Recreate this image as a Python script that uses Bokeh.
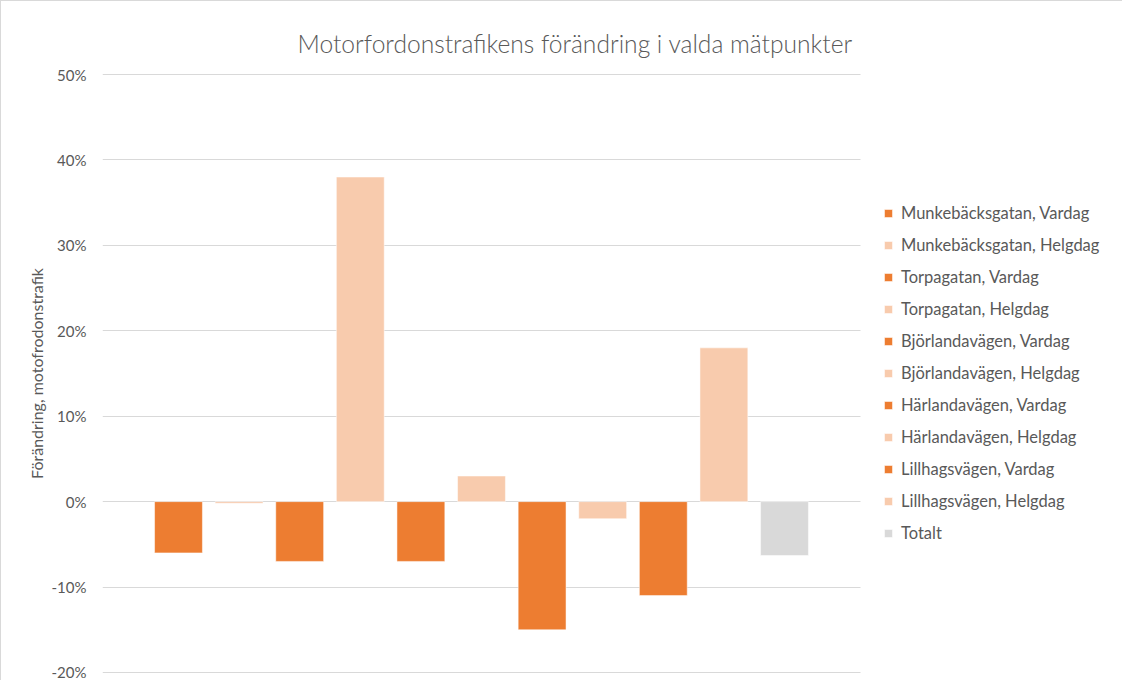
from bokeh.plotting import figure
from bokeh.models import Legend, LegendItem, NumeralTickFormatter, FixedTicker, Range1d
from bokeh.embed import file_html
from bokeh.resources import INLINE

title_text = "Motorfordonstrafikens förändring i valda mätpunkter"
y_label = "Förändring, motofrodonstrafik"
series = [
    "Munkebäcksgatan, Vardag", "Munkebäcksgatan, Helgdag",
    "Torpagatan, Vardag", "Torpagatan, Helgdag",
    "Björlandavägen, Vardag", "Björlandavägen, Helgdag",
    "Härlandavägen, Vardag", "Härlandavägen, Helgdag",
    "Lillhagsvägen, Vardag", "Lillhagsvägen, Helgdag",
    "Totalt",
]
values = [-0.06, -0.002, -0.07, 0.38, -0.07, 0.03, -0.15, -0.02, -0.11, 0.18, -0.063]
colors = ["#ED7D31", "#F8CBAD", "#ED7D31", "#F8CBAD", "#ED7D31", "#F8CBAD",
          "#ED7D31", "#F8CBAD", "#ED7D31", "#F8CBAD", "#D9D9D9"]
y_ticks = [-0.2, -0.1, 0.0, 0.1, 0.2, 0.3, 0.4, 0.5]

TXT = "#595959"
FONT = "Lato"

p = figure(width=1122, height=680, output_backend="svg", toolbar_location=None,
           x_range=Range1d(-1.254, 15.594), y_range=Range1d(-0.2047, 0.5047),
           min_border_left=101, min_border_right=0, min_border_top=69, min_border_bottom=5)
p.styles = {"border-left": "1px solid #D9D9D9", "border-top": "1px solid #D9D9D9"}
p.outline_line_color = None
p.xaxis.visible = False
p.xgrid.visible = False
p.ygrid.grid_line_color = "#D9D9D9"
p.ygrid.grid_line_width = 1
p.ygrid.cross_bounds = (-1.254, 11.254)
p.yaxis.ticker = FixedTicker(ticks=y_ticks)
p.yaxis.formatter = NumeralTickFormatter(format="0%")
p.yaxis.axis_line_color = None
p.yaxis.major_tick_line_color = None
p.yaxis.minor_tick_line_color = None
p.yaxis.major_tick_out = 0
p.yaxis.major_tick_in = 0
p.yaxis.major_label_standoff = 16
p.yaxis.major_label_text_font = FONT
p.yaxis.major_label_text_font_size = "15px"
p.yaxis.major_label_text_color = TXT
p.yaxis.axis_label = y_label
p.yaxis.axis_label_text_font = FONT
p.yaxis.axis_label_text_font_size = "16px"
p.yaxis.axis_label_text_font_style = "normal"
p.yaxis.axis_label_text_color = TXT
p.yaxis.axis_label_standoff = 3

p.title.text = title_text
p.title.align = "left"
p.title.offset = 195
p.title.standoff = 26
p.title.text_font = "Lato Light"
p.title.text_font_size = "24.6px"
p.title.text_font_style = "normal"
p.title.text_color = TXT

items = []
for i, (name, v, c) in enumerate(zip(series, values, colors)):
    r = p.vbar(x=[i], top=[v], bottom=[0], width=0.79, fill_color=c,
               line_color="white", line_alpha=0.5, line_width=1)
    items.append(LegendItem(label=name, renderers=[r]))

legend = Legend(items=items, location=(781, 133), padding=0, margin=0, spacing=12,
                glyph_width=10, glyph_height=10, label_height=20, label_standoff=8,
                label_text_font=FONT, label_text_font_size="16.5px", label_text_color=TXT,
                border_line_color=None, background_fill_alpha=0)
p.add_layout(legend, "center")

open("out.html", "w").write(file_html(p, INLINE))
